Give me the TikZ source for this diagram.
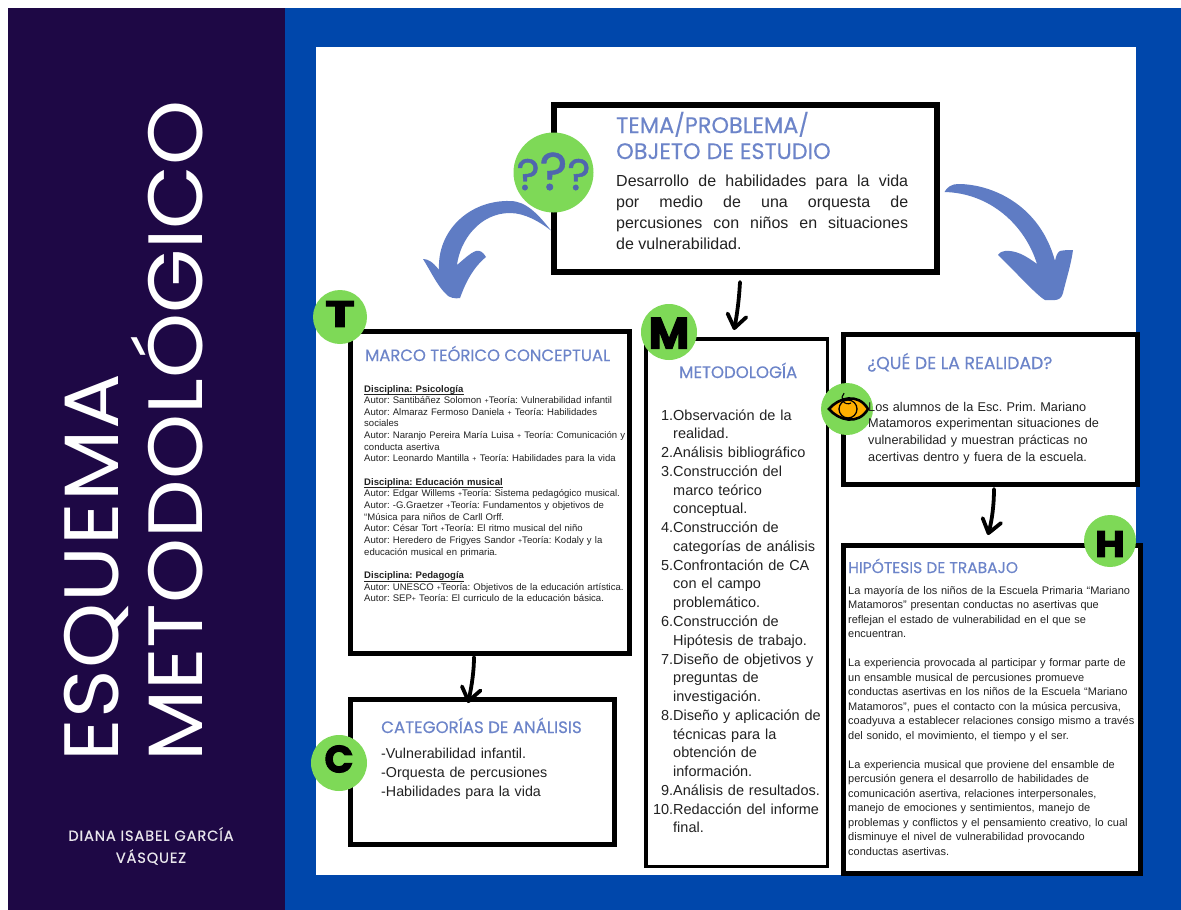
\documentclass[tikz,border=0pt]{standalone}
\usepackage{fontspec}
\usetikzlibrary{arrows.meta,calc}
\setmainfont{Liberation Sans}
\newfontfamily\headf[FakeBold=0.25]{Poppins}
\newfontfamily\titlef[FakeStretch=1.075]{Poppins}
\newfontfamily\authorf[FakeBold=0.5,LetterSpace=6]{Poppins}
\newfontfamily\heavyf[FakeBold=2.5]{Poppins Bold}
\newfontfamily\queryf[FakeBold=1]{Poppins}
\definecolor{panel}{HTML}{1E0845}
\definecolor{royal}{HTML}{0047AB}
\definecolor{headc}{HTML}{6C84C9}
\definecolor{arrowc}{HTML}{5F7CC4}
\definecolor{leaf}{HTML}{7ED957}
\definecolor{ink}{HTML}{222222}
\definecolor{amber}{HTML}{FFB000}
\definecolor{qblue}{HTML}{4F66AE}
\newcommand{\sepm}{{\fontsize{7}{7}\selectfont +}}
\newcommand{\disc}[1]{\underline{\smash{\textbf{#1}}\rule[-1pt]{0pt}{1pt}}}
\tikzset{
  x=1pt,y=-1pt,
  boxnode/.style={draw=black,fill=white,line width=#1,inner sep=0,rectangle},
  greendot/.style={circle,fill=leaf,inner sep=0,minimum size=#1},
  headtext/.style={anchor=base west,inner sep=0,text=headc,font=\headf\fontsize{#1}{#1}\selectfont},
  bodytext/.style n args={3}{anchor=base west,inner sep=0,text=ink,align=left,text width=#3,font=\frenchspacing\fontsize{#1}{#2}\selectfont},
  letterm/.style={inner sep=0,text=black,font=\heavyf\fontsize{#1}{#1}\selectfont},
  querym/.style={anchor=base,inner sep=0,text=qblue,font=\queryf},
  titlem/.style={rotate=90,anchor=base west,inner sep=0,text=white,font=\titlef\fontsize{77}{77}\selectfont},
  handarrow/.style={draw=black,line width=3.8pt,line cap=round,-{Straight Barb[length=13pt,width=19pt,line width=3.8pt,round]}},
  bluearrow/.style={fill=arrowc,draw=none},
}
\begin{document}
\begin{tikzpicture}
\useasboundingbox (0,0) rectangle (1181,910);
\fill[white] (0,0) rectangle (1181,910);
\fill[royal] (285,8) rectangle (1181,910);
\fill[panel] (8,8) rectangle (285,910);
\fill[white] (316,47) rectangle (1136,875);

% boxes
\node[boxnode=6pt,minimum width=383pt,minimum height=167pt] (tema) at (745.5,188.5) {};

% thick blue arrows
\fill[bluearrow] ([yshift=-42pt]tema.west) .. controls (538,214) and (526,201) .. (510,201)
  .. controls (470,200) and (437,230) .. (439,270)
  .. controls (433,262) and (428,259) .. (423,259)
  .. controls (430,270) and (437,285) .. (445,293)
  .. controls (448,298) and (456,299) .. (460,298)
  .. controls (463,290) and (470,270) .. (486,257)
  .. controls (483,252) and (480,250) .. (476,251)
  .. controls (470,253) and (463,260) .. (457,265)
  .. controls (460,240) and (480,213) .. (510,213)
  .. controls (525,213) and (540,222) .. ([yshift=-42pt]tema.west) -- cycle;
\fill[bluearrow] ([xshift=4.5pt,yshift=-3.5pt]tema.east) .. controls (947,187) and (952,184) .. (958,184)
  .. controls (992,184) and (1040,205) .. (1055,261)
  .. controls (1056,255) and (1058,252) .. (1060,251)
  .. controls (1064,250) and (1069,250) .. (1073,250)
  .. controls (1071,265) and (1066,280) .. (1063,293)
  .. controls (1062,298) and (1058,300) .. (1055,300)
  -- (1045,300)
  .. controls (1036,295) and (1012,268) .. (998,255)
  .. controls (1000,252) and (1003,251) .. (1005,251)
  .. controls (1015,250) and (1025,255) .. (1037,264)
  .. controls (1025,225) and (990,193) .. ([xshift=4.5pt,yshift=-3.5pt]tema.east) -- cycle;

\node[boxnode=5pt,minimum width=279pt,minimum height=322pt] (marco) at (490,492.5) {};
\node[boxnode=5pt,minimum width=264pt,minimum height=145pt] (cat) at (482.5,772) {};
\node[boxnode=3.5pt,minimum width=181.5pt,minimum height=527.5pt] (meto) at (736.5,602.5) {};
\node[boxnode=5pt,minimum width=294pt,minimum height=150pt] (que) at (990.5,409.5) {};
\node[boxnode=5pt,minimum width=297pt,minimum height=328pt] (hip) at (992,709.5) {};

% black connectors
\draw[handarrow] ([xshift=-5.5pt,yshift=-7pt]tema.south) .. controls (739,300) and (737,315) .. ([xshift=-2.5pt,yshift=7pt]meto.north);
\draw[handarrow] ([xshift=-16pt,yshift=-1pt]marco.south) .. controls (474,670) and (472,685) .. ([xshift=-14.5pt,yshift=-6pt]cat.north);
\draw[handarrow] ([xshift=3.5pt,yshift=-2pt]que.south) .. controls (994,505) and (992,520) .. ([xshift=-4pt,yshift=8pt]hip.north);

% green badges
\node[greendot=80pt] (qdot) at (553.5,172.5) {};
\node[greendot=54pt] (tdot) at (340,317) {};
\node[greendot=56pt] (mdot) at (669,332) {};
\node[greendot=52pt] (edot) at (847,409) {};
\node[greendot=52pt] (hdot) at (1110,541) {};
\node[greendot=56pt] (cdot) at (339,763) {};

\node[letterm=37] (tl) at (340,314) {\scalebox{1.35}[1]{T}};
\node[letterm=44] (ml) at (669,333) {M};
\node[letterm=37] (hl) at (1110,544) {\scalebox{1.1}[1]{H}};
\node[letterm=38] (cl) at (339,759) {C};
\node[querym] (qmarks) at (553.5,190) {{\fontsize{44}{44}\selectfont ?}{\fontsize{53}{53}\selectfont ?}{\fontsize{44}{44}\selectfont ?}};

% eye
\filldraw[fill=amber,draw=black,line width=2.6pt,line join=miter] (829,409) .. controls (838,398) and (858,392) .. (868,409) .. controls (858,426) and (838,420) .. cycle;
\draw[line width=1.3pt] (848,409) circle[radius=9];
\draw[line width=1.1pt] (851,403) arc[start angle=60,end angle=230,radius=6];

% left panel
\node[titlem] (t1) at (118,762) {\addfontfeature{LetterSpace=1.5}ESQUEMA};
\node[titlem] (t2) at (202,762) {METODOLÓGICO};
\node[inner sep=0,text=white!90!panel,align=center,font=\authorf\fontsize{14.6}{22}\selectfont] (author) at (151,846) {DIANA ISABEL GARCÍA\\VÁSQUEZ};

% texts
\node[headtext=22.4] (temat) at (616,159) {OBJETO DE ESTUDIO};
\node[headtext=22.4] (temat0) at (616,133) {TEMA/PROBLEMA/};
\node[bodytext={16}{21.3}{292pt},align=justify] (temab) at (616,186) {Desarrollo de habilidades para la vida\linebreak por medio de una orquesta de\linebreak percusiones con niños en situaciones\linebreak de vulnerabilidad.};

\node[headtext=16.4] (marcot) at (365,361) {MARCO TEÓRICO CONCEPTUAL};
\node[bodytext={9.55}{11.65}{275pt}] (marcob) at (364,392) {\disc{Disciplina: Psicología}\\
Autor: Santibáñez Solomon \sepm Teoría: Vulnerabilidad infantil\\
Autor: Almaraz Fermoso Daniela \sepm{} Teoría: Habilidades\\
sociales\\
Autor: Naranjo Pereira María Luisa \sepm{} Teoría: Comunicación y\\
conducta asertiva\\
Autor: Leonardo Mantilla \sepm{} Teoría: Habilidades para la vida\\[11.65pt]
\disc{Disciplina: Educación musical}\\
Autor: Edgar Willems \sepm Teoría: Sistema pedagógico musical.\\
Autor: -G.Graetzer \sepm Teoría: Fundamentos y objetivos de\\
“Música para niños de Carll Orff.\\
Autor: César Tort \sepm Teoría: El ritmo musical del niño\\
Autor: Heredero de Frigyes Sandor \sepm Teoría: Kodaly y la\\
educación musical en primaria.\\[11.65pt]
\disc{Disciplina: Pedagogía}\\
Autor: UNESCO \sepm Teoría: Objetivos de la educación artística.\\
Autor: SEP\sepm{} Teoría: El curriculo de la educación básica.};

\node[headtext=16.6] (catt) at (381,733) {CATEGORÍAS DE ANÁLISIS};
\node[bodytext={14.3}{19}{225pt}] (catb) at (381,758) {-Vulnerabilidad infantil.\\-Orquesta de percusiones\\-Habilidades para la vida};

\node[headtext=16.6] (metot) at (679,378) {METODOLOGÍA};
\node[bodytext={14.5}{18.77}{170pt}] (metob) at (655,420) {%
\makebox[18pt][r]{1.}Observación de la\\\hspace*{18pt}realidad.\\
\makebox[18pt][r]{2.}Análisis bibliográfico\\
\makebox[18pt][r]{3.}Construcción del\\\hspace*{18pt}marco teórico\\\hspace*{18pt}conceptual.\\
\makebox[18pt][r]{4.}Construcción de\\\hspace*{18pt}categorías de análisis\\
\makebox[18pt][r]{5.}Confrontación de CA\\\hspace*{18pt}con el campo\\\hspace*{18pt}problemático.\\
\makebox[18pt][r]{6.}Construcción de\\\hspace*{18pt}Hipótesis de trabajo.\\
\makebox[18pt][r]{7.}Diseño de objetivos y\\\hspace*{18pt}preguntas de\\\hspace*{18pt}investigación.\\
\makebox[18pt][r]{8.}Diseño y aplicación de\\\hspace*{18pt}técnicas para la\\\hspace*{18pt}obtención de\\\hspace*{18pt}información.\\
\makebox[18pt][r]{9.}Análisis de resultados.\\
\makebox[18pt][r]{10.}Redacción del informe\\\hspace*{18pt}final.};

\node[headtext=17.3] (quet) at (867,369) {¿QUÉ DE LA REALIDAD?};
\node[bodytext={12.7}{16.7}{262pt}] (queb) at (868,411) {Los alumnos de la Esc. Prim. Mariano\\Matamoros experimentan situaciones de\\vulnerabilidad y muestran prácticas no\\acertivas dentro y fuera de la escuela.};

\node[headtext=15.5] (hipt) at (848,573) {HIPÓTESIS DE TRABAJO};
\node[bodytext={11}{14.5}{288pt}] (hipb) at (848,594) {La mayoría de los niños de la Escuela Primaria “Mariano\\
Matamoros” presentan conductas no asertivas que\\
reflejan el estado de vulnerabilidad en el que se\\
encuentran.\\[14.5pt]
La experiencia provocada al participar y formar parte de\\
un ensamble musical de percusiones promueve\\
conductas asertivas en los niños de la Escuela “Mariano\\
Matamoros”, pues el contacto con la música percusiva,\\
coadyuva a establecer relaciones consigo mismo a través\\
del sonido, el movimiento, el tiempo y el ser.\\[14.5pt]
La experiencia musical que proviene del ensamble de\\
percusión genera el desarrollo de habilidades de\\
comunicación asertiva, relaciones interpersonales,\\
manejo de emociones y sentimientos, manejo de\\
problemas y conflictos y el pensamiento creativo, lo cual\\
disminuye el nivel de vulnerabilidad provocando\\
conductas asertivas.};
\end{tikzpicture}
\end{document}
